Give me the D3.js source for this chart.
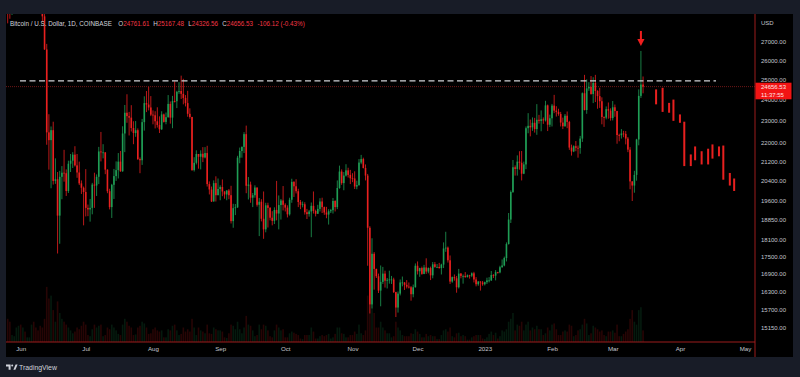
<!DOCTYPE html>
<html>
<head>
<meta charset="utf-8">
<script src="https://cdn.jsdelivr.net/npm/d3@7"></script>
<style>
  html, body { margin: 0; padding: 0; background: #181c27; }
  svg { display: block; }
  text { font-family: "Liberation Sans", Arial, sans-serif; }
</style>
</head>
<body>
<div id="chart"></div>
<script>
// daily BTC/USD candles (Coinbase), first bar 2022-05-26
const firstDay = "2022-05-26";

const opens = [
  29540, 29200, 28620, 29020, 29460, 31730,
  31800, 29800, 30450, 29700, 29860, 29900, 31370, 31130, 30200, 30100, 29090, 28420, 26580, 22480, 22130,
  22580, 20380, 20450, 19000, 20550, 20720, 20700, 19970, 21100, 21230, 21490, 21030, 20730, 20280, 20100,
  19930, 19300, 19240, 19300, 20230, 20190, 20550, 21630, 21590, 21590, 20850, 19960, 19330, 20220, 20580,
  20830, 21190, 20780, 22430, 23390, 23230, 23160, 22680, 22450, 22580, 21300, 21250, 22950, 23850, 23780, 23640,
  23300, 23270, 22990, 22820, 22620, 23310, 22960, 23180, 23810, 23160, 23950, 23940, 24400, 24440, 24300,
  24100, 23850, 23340, 23190, 20830, 21140, 21520, 21400, 21530, 21370, 21560, 20250, 20030, 19550, 20290, 19800,
  20050, 20130, 19950, 19830, 19990, 19800, 18790, 19290, 19320, 21360, 21650, 21830, 22400, 20180, 20230,
  19700, 19800, 20110, 19420, 19540, 18880, 18480, 19400, 19300, 18920, 18800, 19220, 19080, 19410, 19590,
  19420, 19310, 19050, 19620, 20340, 20160, 19960, 19530, 19420, 19440, 19130, 19060, 19160, 19380, 19180,
  19070, 19260, 19550, 19330, 19120, 19040, 19170, 19210, 19570, 19330, 20090, 20770, 20290, 20600, 20820, 20630,
  20490, 20480, 20150, 20210, 21150, 21300, 20920, 20600, 18540, 15880, 17590, 17060, 16810, 16330, 16620,
  16900, 16660, 16690, 16700, 16700, 16280, 15780, 16230, 16600, 16600, 16520, 16460, 16440, 16210, 16440,
  17170, 16980, 17090, 16890, 17110, 16970, 17090, 16840, 17220, 17130, 17130, 17090, 17210, 17780, 17810,
  17360, 16630, 16780, 16740, 16440, 16900, 16820, 16820, 16780, 16840, 16830, 16910, 16700, 16540, 16630, 16600,
  16540, 16610, 16670, 16670, 16850, 16830, 16950, 16940, 17120, 17180, 17440, 17940, 18850, 19930, 20950,
  20880, 21190, 21140, 20680, 21070, 22670, 22780, 22710, 22920, 22630, 23060, 23010, 23080, 23030, 23740, 22830,
  23130, 23730, 23490, 23430, 23330, 22930, 22760, 23250, 22960, 21800, 21630, 21860, 21790, 21780,
  22200, 24330, 23520, 24570, 24640, 24290, 24840, 24440, 24190, 23940, 23190, 23160, 23560, 23490,
  23140, 23650, 23470, 22360, 22350, 22430, 22410, 22200, 21710, 20360, 20190, 20630, 22160, 24200, 24761.61
];
const highs = [
  29860, 29380, 29100, 29550, 32200, 32400,
  31980, 30650, 30680, 29950, 30170, 31750, 31550, 31330, 30650, 30350, 29440, 28550, 26880, 23320, 22750,
  22970, 21330, 20750, 20800, 21000, 21700, 20860, 21230, 21520, 21600, 21860, 21520, 21190, 20400, 20150,
  20870, 19430, 19650, 20300, 20720, 20650, 21830, 22500, 21950, 21600, 20860, 20060, 20260, 20880, 21200,
  21560, 21650, 22760, 23760, 24280, 23430, 23750, 22990, 23000, 22660, 21370, 23100, 24180, 24440, 24650, 24190,
  23500, 23460, 23650, 23220, 23460, 23350, 23400, 24240, 23930, 24200, 24920, 24450, 24880, 25210, 25050,
  24240, 24450, 23600, 23200, 21380, 21680, 21520, 21680, 21820, 21820, 21880, 20360, 20150, 20400, 20570, 20480,
  20200, 20440, 19960, 20000, 20050, 20180, 19460, 19450, 21440, 21800, 21850, 22490, 22790, 20540, 20350,
  19890, 20200, 20110, 19690, 19640, 19950, 19500, 19500, 19330, 19170, 19320, 20380, 19790, 19650, 20170,
  19480, 19400, 19700, 20470, 20370, 20450, 20060, 19610, 19550, 19520, 19260, 19220, 19510, 19950, 19230,
  19420, 19680, 19700, 19350, 19340, 19250, 19260, 19690, 19600, 20400, 21020, 20860, 20750, 21080, 20930, 20840,
  20700, 20780, 20390, 21300, 21480, 21360, 21070, 20670, 18600, 18150, 17650, 17070, 16900, 17180, 17130,
  17000, 16750, 17000, 16820, 16760, 16290, 16300, 16700, 16800, 16610, 16680, 16600, 16480, 16530, 17250,
  17320, 17100, 17140, 17200, 17430, 17110, 17140, 17300, 17300, 17230, 17270, 17240, 18000, 18390, 17850,
  17530, 16800, 16870, 16820, 17060, 16920, 16870, 16950, 16870, 16860, 16940, 16960, 16780, 16650, 16640, 16650,
  16630, 16760, 16780, 16990, 16880, 17020, 16960, 17170, 17390, 17490, 18000, 19100, 19990, 21260, 21030,
  21460, 21640, 21650, 21190, 22750, 23370, 23070, 23170, 23150, 23800, 23290, 23500, 23170, 23960, 23780, 23300,
  23810, 24250, 23700, 23580, 23430, 23160, 23330, 23450, 23010, 21930, 21900, 22090, 21890, 22320,
  24370, 25250, 25020, 24880, 25190, 25130, 25250, 24480, 24600, 24130, 23220, 23690, 23880, 23600,
  23950, 23780, 23480, 22420, 22630, 22550, 22540, 22270, 21820, 20370, 20800, 22190, 24520, 26500, 25167.48
];
const lows = [
  28020, 28280, 28500, 28820, 29300, 31200,
  29300, 29580, 29500, 29450, 29500, 29880, 29250, 29850, 29960, 28850, 28100, 26560, 21925, 20850, 20080,
  20230, 20260, 17600, 17950, 19640, 20350, 19770, 19890, 20750, 20920, 20980, 20510, 20210, 19850, 18630,
  18970, 18980, 18770, 19050, 19300, 19770, 20250, 21200, 21330, 20660, 19880, 19240, 18910, 19650, 20380,
  20480, 20760, 20760, 21600, 22920, 22340, 22520, 21950, 22280, 21260, 20700, 21050, 22560, 23420, 23500, 23230,
  22850, 22660, 22700, 22450, 22590, 22930, 22850, 23160, 22880, 22670, 23880, 23610, 24300, 24050, 23790,
  23690, 23200, 23110, 20800, 20770, 21070, 20890, 20860, 21170, 21330, 20150, 19830, 19530, 19550, 19550, 19800,
  19600, 19760, 19660, 19600, 19640, 18700, 18540, 19020, 19300, 21120, 21360, 21560, 19880, 19630, 19500,
  19330, 19700, 19350, 18230, 18780, 18130, 18370, 18550, 18820, 18630, 18680, 18820, 18480, 18850, 19200,
  19160, 18930, 19000, 19500, 19730, 19870, 19330, 19250, 19320, 19040, 18870, 18960, 18190, 19080, 18970,
  19070, 19160, 19100, 19030, 18900, 18660, 19100, 19080, 19160, 19250, 20060, 20220, 20000, 20560, 20520, 20250,
  20330, 20050, 20040, 20180, 21080, 20900, 20400, 17170, 15590, 15750, 16360, 16750, 16250, 15820, 16550,
  16430, 16400, 16560, 16550, 16250, 15480, 15620, 16170, 16470, 16350, 16400, 16400, 16000, 16110, 16430,
  16870, 16790, 16860, 16880, 16890, 16910, 16680, 16740, 17100, 17090, 17070, 16870, 17090, 17660, 17280,
  16550, 16590, 16660, 16260, 16400, 16740, 16560, 16760, 16770, 16730, 16780, 16600, 16470, 16490, 16330, 16490,
  16500, 16550, 16600, 16650, 16750, 16670, 16900, 16910, 17100, 17150, 17320, 17920, 18720, 19890, 20600,
  20600, 20850, 20400, 20660, 20870, 22440, 22300, 22550, 22470, 22370, 22880, 22530, 22870, 22980, 22540, 22720,
  22750, 23370, 23210, 23250, 22750, 22630, 22740, 22670, 21700, 21450, 21600, 21640, 21360, 21530,
  22050, 23500, 23340, 24450, 24260, 23850, 23900, 23580, 23620, 22850, 22730, 23080, 23110, 23020,
  23030, 23200, 21970, 22080, 22200, 22260, 21940, 21600, 20040, 19570, 19900, 20390, 21900, 24100, 24326.56
];
const closes = [
  29200, 28620, 29020, 29460, 31730, 31800,
  29800, 30450, 29700, 29860, 29900, 31370, 31130, 30200, 30100, 29090, 28420, 26580, 22480, 22130, 22580,
  20380, 20450, 19000, 20550, 20720, 20700, 19970, 21100, 21230, 21490, 21030, 20730, 20280, 20100, 19930,
  19300, 19240, 19300, 20230, 20190, 20550, 21630, 21590, 21590, 20850, 19960, 19330, 20220, 20580, 20830,
  21190, 20780, 22430, 23390, 23230, 23160, 22680, 22450, 22580, 21300, 21250, 22950, 23850, 23780, 23640, 23300,
  23270, 22990, 22820, 22620, 23310, 22960, 23180, 23810, 23160, 23950, 23940, 24400, 24440, 24300, 24100,
  23850, 23340, 23190, 20830, 21140, 21520, 21400, 21530, 21370, 21560, 20250, 20030, 19550, 20290, 19800, 20050,
  20130, 19950, 19830, 19990, 19800, 18790, 19290, 19320, 21360, 21650, 21830, 22400, 20180, 20230, 19700,
  19800, 20110, 19420, 19540, 18880, 18480, 19400, 19300, 18920, 18800, 19220, 19080, 19410, 19590, 19420,
  19310, 19050, 19620, 20340, 20160, 19960, 19530, 19420, 19440, 19130, 19060, 19160, 19380, 19180, 19070,
  19260, 19550, 19330, 19120, 19040, 19170, 19210, 19570, 19330, 20090, 20770, 20290, 20600, 20820, 20630, 20490,
  20480, 20150, 20210, 21150, 21300, 20920, 20600, 18540, 15880, 17590, 17060, 16810, 16330, 16620, 16900,
  16660, 16690, 16700, 16700, 16280, 15780, 16230, 16600, 16600, 16520, 16460, 16440, 16210, 16440, 17170,
  16980, 17090, 16890, 17110, 16970, 17090, 16840, 17220, 17130, 17130, 17090, 17210, 17780, 17810, 17360,
  16630, 16780, 16740, 16440, 16900, 16820, 16820, 16780, 16840, 16830, 16910, 16700, 16540, 16630, 16600, 16540,
  16610, 16670, 16670, 16850, 16830, 16950, 16940, 17120, 17180, 17440, 17940, 18850, 19930, 20950, 20880,
  21190, 21140, 20680, 21070, 22670, 22780, 22710, 22920, 22630, 23060, 23010, 23080, 23030, 23740, 22830, 23130,
  23730, 23490, 23430, 23330, 22930, 22760, 23250, 22960, 21800, 21630, 21860, 21790, 21780, 22200,
  24330, 23520, 24570, 24640, 24290, 24840, 24440, 24190, 23940, 23190, 23160, 23560, 23490, 23140,
  23650, 23470, 22360, 22350, 22430, 22410, 22200, 21710, 20360, 20190, 20630, 22160, 24200, 24762.65, 24656.53
];
// volume, thousand BTC
const volumes = [
  40, 35, 12, 10, 25, 28,
  30, 25, 18, 8, 8, 30, 35, 25, 20, 28, 25, 40, 95, 75, 80, 55, 35, 70, 50, 40, 35, 30, 25, 20, 15, 18, 25, 22, 28, 35,
  30, 12, 10, 22, 30, 25, 28, 30, 10, 12, 25, 22, 30, 25, 20, 14, 12, 30, 40, 35, 28, 25, 12, 13, 25, 28, 35, 32, 25, 14, 15,
  22, 25, 20, 18, 20, 8, 8, 22, 20, 28, 30, 20, 12, 14, 25, 18, 22, 18, 40, 25, 12, 25, 20, 18, 15, 30, 15, 14, 25, 22, 20,
  20, 18, 8, 7, 15, 30, 28, 22, 35, 22, 15, 25, 45, 30, 28, 20, 10, 12, 30, 22, 30, 28, 20, 10, 8, 20, 30, 25, 20, 22,
  8, 8, 15, 18, 16, 14, 12, 6, 5, 12, 12, 12, 25, 18, 6, 6, 10, 12, 10, 12, 14, 6, 8, 14, 25, 25, 15, 14, 8, 8, 12,
  12, 18, 14, 30, 15, 12, 20, 80, 100, 75, 50, 25, 25, 35, 25, 20, 15, 15, 8, 10, 35, 25, 20, 12, 10, 10, 10, 15, 14, 22,
  18, 14, 8, 8, 14, 10, 12, 10, 10, 5, 5, 12, 20, 22, 18, 25, 10, 8, 15, 16, 10, 12, 10, 4, 4, 8, 10, 12, 12, 12, 6,
  5, 8, 14, 18, 12, 16, 6, 10, 20, 18, 22, 35, 40, 50, 20, 30, 28, 35, 20, 30, 35, 20, 25, 22, 28, 22, 22, 12, 15, 25, 20,
  30, 32, 22, 12, 12, 18, 20, 18, 30, 28, 10, 12, 20, 22, 30, 40, 32, 12, 15, 28, 25, 22, 18, 20, 12, 10, 18, 18,
  20, 16, 30, 10, 10, 14, 18, 22, 40, 55, 35, 30, 55, 60, 20
];

// projected (drawn) bars after the last candle
const projDates = ["2023-03-21", "2023-03-24", "2023-03-27", "2023-03-29", "2023-04-01", "2023-04-03", "2023-04-06",
  "2023-04-08", "2023-04-11", "2023-04-14", "2023-04-16", "2023-04-19", "2023-04-21", "2023-04-24", "2023-04-26"];
const projHigh = [24520, 24600, 23860, 24020, 23310, 22970, 21500, 21850, 21640, 21750, 21940, 21850, 21890, 20710, 20480];
const projLow = [23790, 23430, 23390, 23010, 22920, 21000, 21000, 21250, 21070, 21070, 21320, 21420, 20430, 20190, 19970];

const levelPrice = 24950;          // dashed resistance line
const arrowDate = "2023-03-14";

const priceTicks = [27000, 26000, 25000, 24000, 23000, 22000, 21200, 20400, 19600, 18850, 18100, 17500, 16900, 16300, 15700, 15150];
const monthTicks = ["2022-06-01", "2022-07-01", "2022-08-01", "2022-09-01", "2022-10-01", "2022-11-01", "2022-12-01",
  "2023-01-01", "2023-02-01", "2023-03-01", "2023-04-01", "2023-05-01"];

const header = { title: "Bitcoin / U.S. Dollar, 1D, COINBASE", o: "24761.61", h: "25167.48", l: "24326.56", c: "24656.53", chg: "-106.12 (-0.43%)" };

const width = 800, height = 377;
const pane = { left: 6, top: 14, right: 755, bottom: 342 };
const upColor = "#1f9d55", downColor = "#e8201f";

const parse = d3.utcParse("%Y-%m-%d");
const start = parse(firstDay);
const data = closes.map((c, i) => ({
  date: d3.utcDay.offset(start, i),
  o: opens[i], h: highs[i], l: lows[i], c: c, v: volumes[i]
}));

const x = d3.scaleUtc()
  .domain([parse("2022-06-01"), parse("2023-05-01")])
  .range([20.7, 745]);
const y = d3.scaleLog()
  .domain([15150, 27000])
  .range([327.7, 41.7]);
const yVol = d3.scaleLinear()
  .domain([0, 100])
  .range([pane.bottom, pane.bottom - 58]);

const svg = d3.select("#chart").append("svg")
  .attr("width", width)
  .attr("height", height);

svg.append("rect").attr("width", width).attr("height", height).attr("fill", "#181c27");
svg.append("rect")
  .attr("x", pane.left).attr("y", pane.top)
  .attr("width", 793 - pane.left).attr("height", 357 - pane.top)
  .attr("fill", "#000");

svg.append("clipPath").attr("id", "clip")
  .append("rect")
  .attr("x", pane.left).attr("y", pane.top)
  .attr("width", pane.right - pane.left).attr("height", pane.bottom - pane.top);

const plot = svg.append("g").attr("clip-path", "url(#clip)");

// volume
plot.append("g").selectAll("rect")
  .data(data)
  .enter()
  .append("rect")
  .attr("x", d => x(d.date) - 0.8)
  .attr("width", 1.6)
  .attr("y", d => yVol(d.v))
  .attr("height", d => yVol(0) - yVol(d.v))
  .attr("fill", d => d.c >= d.o ? upColor : downColor)
  .attr("opacity", 0.17);

// last price line
plot.append("line")
  .attr("x1", pane.left).attr("x2", pane.right)
  .attr("y1", y(24656.53)).attr("y2", y(24656.53))
  .attr("stroke", "#8a1c1c").attr("stroke-width", 0.8)
  .attr("stroke-dasharray", "1,1");

// candles
const candles = plot.append("g").selectAll("g")
  .data(data)
  .enter()
  .append("g");

candles.append("line")
  .attr("x1", d => x(d.date)).attr("x2", d => x(d.date))
  .attr("y1", d => y(d.h)).attr("y2", d => y(d.l))
  .attr("stroke", d => d.c >= d.o ? upColor : downColor)
  .attr("stroke-width", 0.8);

candles.append("rect")
  .attr("x", d => x(d.date) - 0.8)
  .attr("width", 1.6)
  .attr("y", d => y(Math.max(d.o, d.c)))
  .attr("height", d => Math.max(0.8, Math.abs(y(d.o) - y(d.c))))
  .attr("fill", d => d.c >= d.o ? upColor : downColor);

// projected bars
plot.append("g").selectAll("rect")
  .data(projDates)
  .enter()
  .append("rect")
  .attr("x", d => x(parse(d)) - 1)
  .attr("width", 2)
  .attr("y", (d, i) => y(projHigh[i]))
  .attr("height", (d, i) => y(projLow[i]) - y(projHigh[i]))
  .attr("fill", downColor);

// dashed level
plot.append("line")
  .attr("x1", 20).attr("x2", 716)
  .attr("y1", y(levelPrice)).attr("y2", y(levelPrice))
  .attr("stroke", "#cfd1d6").attr("stroke-width", 1.3)
  .attr("stroke-dasharray", "6,3.5");

// arrow above the spike
const spike = data.find(d => +d.date === +parse(arrowDate));
const ax = x(spike.date);
const arrowTip = y(spike.h) - 5;
const arrow = svg.append("g").attr("fill", "#f01e1e");
arrow.append("rect").attr("x", ax - 1).attr("y", arrowTip - 15).attr("width", 2).attr("height", 9);
arrow.append("path").attr("d", `M${ax - 3.6},${arrowTip - 7}L${ax + 3.6},${arrowTip - 7}L${ax},${arrowTip}Z`);

// pane borders (red)
svg.append("line")
  .attr("x1", pane.left).attr("x2", pane.right)
  .attr("y1", pane.bottom).attr("y2", pane.bottom)
  .attr("stroke", "#9c1c1c").attr("stroke-width", 1);
svg.append("line")
  .attr("x1", pane.right).attr("x2", pane.right)
  .attr("y1", pane.top).attr("y2", 357)
  .attr("stroke", "#9c1c1c").attr("stroke-width", 1);

// price axis
const priceAxis = svg.append("g")
  .attr("transform", `translate(${pane.right},0)`)
  .call(d3.axisRight(y).tickValues(priceTicks).tickFormat(d3.format(".2f")).tickSize(0).tickPadding(6));
priceAxis.select(".domain").remove();
priceAxis.selectAll("text")
  .attr("fill", "#c3c6ce")
  .style("font-family", "'Liberation Sans Narrow', 'Arial Narrow', sans-serif")
  .style("font-size", "6px");

svg.append("text")
  .attr("x", 761).attr("y", 24.8)
  .attr("fill", "#c3c6ce")
  .style("font-family", "'Liberation Sans Narrow', 'Arial Narrow', sans-serif")
  .style("font-size", "6px")
  .text("USD");

// last price tag
const tag = svg.append("g");
tag.append("rect")
  .attr("x", pane.right + 0.5).attr("y", 82.7)
  .attr("width", 36).attr("height", 16.6)
  .attr("fill", "#f21414");
tag.append("text")
  .attr("x", 761).attr("y", 89.2)
  .attr("fill", "#ffe6e6")
  .style("font-family", "'Liberation Sans Narrow', 'Arial Narrow', sans-serif")
  .style("font-size", "6px")
  .text("24656.53");
tag.append("text")
  .attr("x", 761).attr("y", 96.6)
  .attr("fill", "#ffe6e6")
  .style("font-family", "'Liberation Sans Narrow', 'Arial Narrow', sans-serif")
  .style("font-size", "6px")
  .text("11:37:55");

// time axis
const monthFmt = d => d.getUTCMonth() === 0 ? d3.utcFormat("%Y")(d) : d3.utcFormat("%b")(d);
const timeAxis = svg.append("g")
  .attr("transform", `translate(0,${pane.bottom})`)
  .call(d3.axisBottom(x).tickValues(monthTicks.map(parse)).tickFormat(monthFmt).tickSize(0).tickPadding(5));
timeAxis.select(".domain").remove();
timeAxis.selectAll("text")
  .attr("fill", "#c3c6ce")
  .style("font-size", "6.2px");

// header
const head = svg.append("text")
  .attr("y", 26.2)
  .style("font-size", "6.3px");
head.append("tspan").attr("x", 10).attr("fill", "#d1d4dc").text(header.title);
[["O", header.o, 118.3], ["H", header.h, 153.3], ["L", header.l, 188.3], ["C", header.c, 222.3]].forEach(([k, v, px]) => {
  head.append("tspan").attr("x", px).attr("fill", "#d1d4dc").text(k);
  head.append("tspan").attr("fill", "#f23645").text(v);
});
head.append("tspan").attr("x", 257.5).attr("fill", "#f23645").text(header.chg);

// footer logo
const logo = svg.append("g").attr("fill", "#d1d4dc");
logo.append("path").attr("d", "M6,364.6h4.6v5.2h-2v-3.2h-2.6z");
logo.append("circle").attr("cx", 12.2).attr("cy", 365.6).attr("r", 1);
logo.append("path").attr("d", "M13.4,369.8l2.2-5.2h2l-2.2,5.2z");
svg.append("text")
  .attr("x", 19).attr("y", 369.6)
  .attr("fill", "#d1d4dc")
  .style("font-size", "6.9px")
  .text("TradingView");
</script>
</body>
</html>
